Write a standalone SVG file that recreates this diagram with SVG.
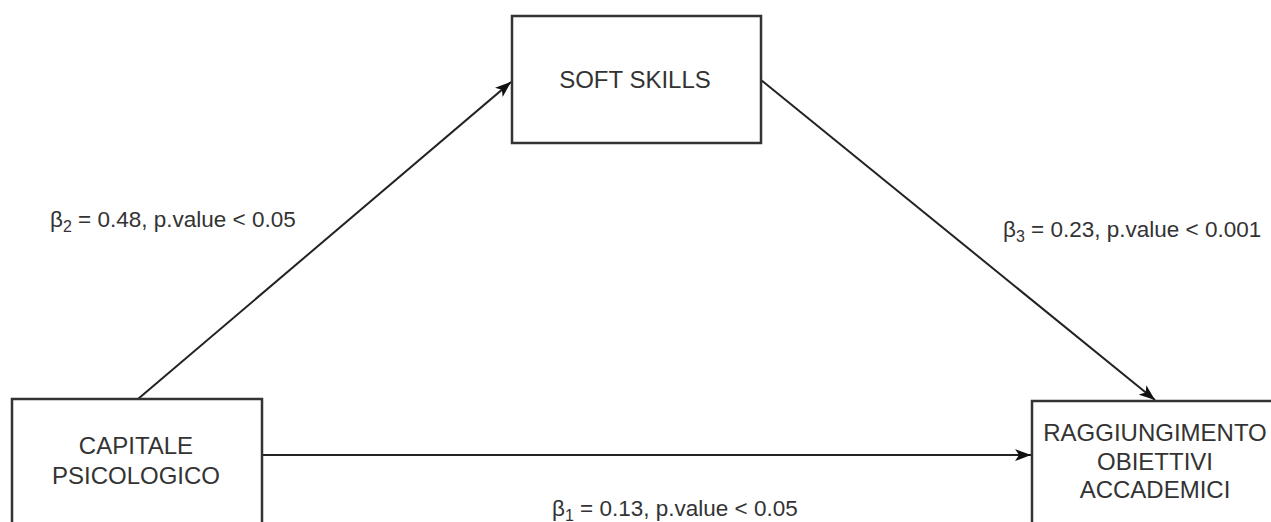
<svg xmlns="http://www.w3.org/2000/svg" width="1271" height="522" viewBox="0 0 1271 522">
<style>
.box{fill:#fff;stroke:#333;stroke-width:2.5}
.node{font-family:"Liberation Sans",Arial,sans-serif;font-size:24px;fill:#333;text-anchor:middle}
.lbl{font-family:"Liberation Sans",Arial,sans-serif;font-size:22.5px;fill:#333}
.edge{stroke:#222;stroke-width:2;fill:none}
</style>
<defs>
<marker id="arr" viewBox="0 0 16 12" refX="16" refY="6" markerWidth="16" markerHeight="12" markerUnits="userSpaceOnUse" orient="auto">
<path d="M0,0 L16,6 L0,12 L4,6 Z" fill="#111"/>
</marker>
</defs>
<rect width="1271" height="522" fill="#fff"/>
<g id="connectors">
<line class="edge" x1="138" y1="399" x2="511" y2="82" marker-end="url(#arr)"/>
<line class="edge" x1="761" y1="80" x2="1155" y2="400" marker-end="url(#arr)"/>
<line class="edge" x1="262" y1="455" x2="1031" y2="455" marker-end="url(#arr)"/>
</g>
<g id="soft-skills">
<rect class="box" x="512" y="16" width="249" height="127"/>
<text class="node" x="635" y="88">SOFT SKILLS</text>
</g>
<g id="capitale">
<rect class="box" x="12" y="399" width="250" height="140"/>
<text class="node" x="136" y="454">CAPITALE</text>
<text class="node" x="136" y="484">PSICOLOGICO</text>
</g>
<g id="raggiungimento">
<rect class="box" x="1032" y="401" width="260" height="140"/>
<text class="node" x="1155" y="441">RAGGIUNGIMENTO</text>
<text class="node" x="1155" y="470">OBIETTIVI</text>
<text class="node" x="1155" y="498">ACCADEMICI</text>
</g>
<g id="labels">
<text class="lbl" x="50" y="227">β<tspan font-size="16" dy="5">2</tspan><tspan dy="-5"> = 0.48, p.value &lt; 0.05</tspan></text>
<text class="lbl" x="1003" y="237">β<tspan font-size="16" dy="5">3</tspan><tspan dy="-5"> = 0.23, p.value &lt; 0.001</tspan></text>
<text class="lbl" x="552" y="516">β<tspan font-size="16" dy="5">1</tspan><tspan dy="-5"> = 0.13, p.value &lt; 0.05</tspan></text>
</g>
</svg>
